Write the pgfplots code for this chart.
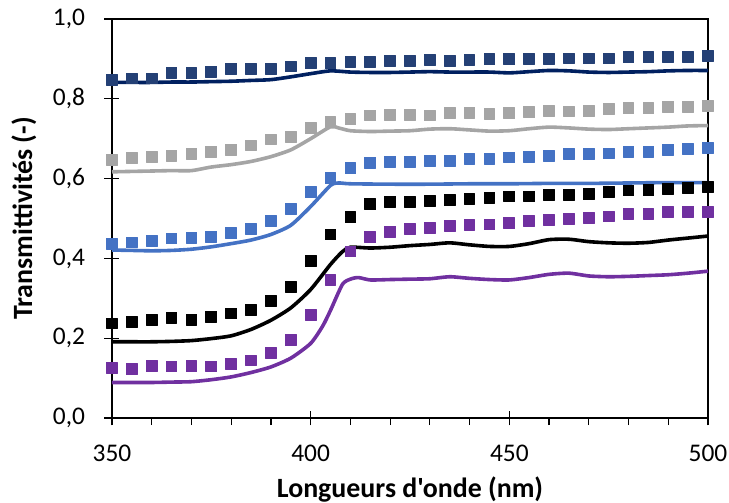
\documentclass[border=0pt]{standalone}
\usepackage{fontspec}
\setmainfont{Carlito}[Ligatures=TeXOff]
\usepackage{pgfplots}
\pgfplotsset{compat=1.18}
\definecolor{navyM}{RGB}{36,64,117}
\definecolor{navyL}{RGB}{0,32,96}
\definecolor{grayC}{RGB}{165,165,165}
\definecolor{blueC}{RGB}{68,114,196}
\definecolor{purpC}{RGB}{112,48,160}
\begin{document}
\begin{tikzpicture}
\begin{axis}[
 scale only axis, width=596bp, height=399bp,
 xmin=350, xmax=500, ymin=0, ymax=1,
 clip=false,
 xtick={350,400,450,500}, minor x tick num=4,
 ytick={0,0.2,0.4,0.6,0.8,1.0},
 xtick pos=bottom, ytick pos=left,
 tick align=center, major tick length=15bp, minor tick length=7bp,
 tick style={black, line width=1.2bp},
 minor tick style={yshift=-3.5bp},
 axis line style={black, line width=1.2bp},
 /pgf/number format/assume math mode=true,
 tick label style={font=\fontsize{25.5}{30}\selectfont},
 yticklabel style={xshift=-16bp, /pgf/number format/.cd, use comma, fixed, fixed zerofill, precision=1},
 xticklabel style={yshift=-16bp, /pgf/number format/.cd, fixed, precision=0, 1000 sep={}},
 xlabel={Longueurs d'onde (nm)},
 ylabel={Transmittivités (-)},
 label style={font=\fontsize{28}{32}\selectfont\bfseries},
 xlabel style={at={(axis description cs:0.5,-0.198)}, anchor=base},
 ylabel style={at={(axis description cs:-0.1342,0.5)}, anchor=base, rotate=0},
 every axis plot/.append style={line join=round},
]
% ---- lines ----
\addplot[navyL, line width=3.6bp, smooth, tension=0.4, no marks] coordinates {
(350,0.841)(355,0.841)(360,0.841)(365,0.842)(370,0.842)(375,0.843)(380,0.844)(385,0.846)(390,0.848)(395,0.855)(400,0.863)(405,0.870)(410,0.867)(415,0.866)(420,0.866)(425,0.867)(430,0.868)(435,0.867)(440,0.867)(445,0.867)(450,0.865)(455,0.868)(460,0.871)(465,0.870)(470,0.867)(475,0.866)(480,0.867)(485,0.868)(490,0.870)(495,0.871)(500,0.871)};
\addplot[grayC, line width=3.6bp, smooth, tension=0.4, no marks] coordinates {
(350,0.617)(355,0.618)(360,0.619)(365,0.620)(370,0.620)(375,0.629)(380,0.635)(385,0.643)(390,0.655)(395,0.672)(400,0.700)(405,0.730)(407,0.727)(410,0.720)(415,0.718)(420,0.719)(425,0.720)(430,0.724)(435,0.725)(440,0.722)(445,0.719)(450,0.720)(455,0.725)(460,0.729)(465,0.727)(470,0.724)(475,0.723)(480,0.725)(485,0.727)(490,0.729)(495,0.732)(500,0.733)};
\addplot[blueC, line width=3.6bp, smooth, tension=0.4, no marks] coordinates {
(350,0.421)(355,0.420)(360,0.419)(365,0.420)(370,0.423)(375,0.429)(380,0.437)(385,0.446)(390,0.460)(395,0.483)(400,0.530)(405,0.583)(407,0.589)(410,0.587)(420,0.586)(430,0.586)(440,0.587)(450,0.587)(460,0.588)(470,0.588)(480,0.589)(490,0.590)(500,0.590)};
\addplot[black, line width=3.6bp, smooth, tension=0.4, no marks] coordinates {
(350,0.191)(355,0.191)(360,0.191)(365,0.192)(370,0.194)(375,0.199)(380,0.206)(385,0.222)(390,0.245)(395,0.276)(400,0.322)(405,0.385)(408,0.417)(410,0.428)(415,0.426)(420,0.428)(425,0.432)(430,0.435)(435,0.439)(440,0.434)(445,0.430)(450,0.430)(455,0.437)(460,0.447)(465,0.448)(470,0.442)(475,0.439)(480,0.438)(485,0.440)(490,0.446)(495,0.451)(500,0.456)};
\addplot[purpC, line width=3.6bp, smooth, tension=0.4, no marks] coordinates {
(350,0.089)(355,0.089)(360,0.089)(365,0.090)(370,0.091)(375,0.096)(380,0.103)(385,0.114)(390,0.128)(395,0.150)(400,0.187)(403,0.230)(405,0.270)(408,0.335)(410,0.348)(412,0.352)(415,0.346)(420,0.347)(425,0.348)(430,0.349)(435,0.354)(440,0.350)(445,0.347)(450,0.346)(455,0.352)(460,0.360)(465,0.363)(470,0.356)(475,0.354)(480,0.355)(485,0.357)(490,0.359)(495,0.363)(500,0.368)};
% ---- markers ----
\addplot[only marks, mark=square*, mark size=5.4pt, mark options={fill=navyM, draw=navyM, line width=1bp}] coordinates {
(350,0.847)(355,0.851)(360,0.851)(365,0.865)(370,0.864)(375,0.868)(380,0.875)(385,0.874)(390,0.875)(395,0.881)(400,0.889)(405,0.889)(410,0.892)(415,0.892)(420,0.895)(425,0.895)(430,0.897)(435,0.895)(440,0.897)(445,0.899)(450,0.899)(455,0.900)(460,0.899)(465,0.901)(470,0.901)(475,0.901)(480,0.904)(485,0.904)(490,0.905)(495,0.905)(500,0.908)};
\addplot[only marks, mark=square*, mark size=5.4pt, mark options={fill=grayC, draw=grayC, line width=1bp}] coordinates {
(350,0.647)(355,0.652)(360,0.655)(365,0.657)(370,0.662)(375,0.667)(380,0.672)(385,0.683)(390,0.698)(395,0.705)(400,0.726)(405,0.742)(410,0.749)(415,0.758)(420,0.760)(425,0.759)(430,0.758)(435,0.764)(440,0.765)(445,0.762)(450,0.764)(455,0.766)(460,0.769)(465,0.768)(470,0.769)(475,0.774)(480,0.776)(485,0.776)(490,0.780)(495,0.780)(500,0.782)};
\addplot[only marks, mark=square*, mark size=5.4pt, mark options={fill=blueC, draw=blueC, line width=1bp}] coordinates {
(350,0.436)(355,0.440)(360,0.444)(365,0.450)(370,0.452)(375,0.454)(380,0.463)(385,0.474)(390,0.494)(395,0.524)(400,0.566)(405,0.601)(410,0.626)(415,0.640)(420,0.642)(425,0.641)(430,0.645)(435,0.645)(440,0.649)(445,0.649)(450,0.653)(455,0.655)(460,0.657)(465,0.661)(470,0.661)(475,0.663)(480,0.667)(485,0.667)(490,0.672)(495,0.674)(500,0.676)};
\addplot[only marks, mark=square*, mark size=5.4pt, mark options={fill=black, draw=black, line width=1bp}] coordinates {
(350,0.237)(355,0.241)(360,0.246)(365,0.251)(370,0.246)(375,0.254)(380,0.262)(385,0.271)(390,0.293)(395,0.329)(400,0.393)(405,0.460)(410,0.503)(415,0.536)(420,0.542)(425,0.541)(430,0.544)(435,0.546)(440,0.549)(445,0.552)(450,0.555)(455,0.555)(460,0.559)(465,0.559)(470,0.561)(475,0.566)(480,0.570)(485,0.571)(490,0.574)(495,0.577)(500,0.578)};
\addplot[only marks, mark=square*, mark size=5.4pt, mark options={fill=purpC, draw=purpC, line width=1bp}] coordinates {
(350,0.125)(355,0.122)(360,0.130)(365,0.129)(370,0.130)(375,0.129)(380,0.135)(385,0.144)(390,0.162)(395,0.195)(400,0.258)(405,0.346)(410,0.417)(415,0.453)(420,0.467)(425,0.474)(430,0.477)(435,0.481)(440,0.484)(445,0.485)(450,0.488)(455,0.494)(460,0.496)(465,0.499)(470,0.502)(475,0.505)(480,0.511)(485,0.511)(490,0.516)(495,0.517)(500,0.517)};
\end{axis}
\pgfresetboundingbox
\path[use as bounding box] ([shift={(-112bp,-85bp)}]current axis.south west) rectangle ([shift={(21bp,19bp)}]current axis.north east);
\end{tikzpicture}
\end{document}
